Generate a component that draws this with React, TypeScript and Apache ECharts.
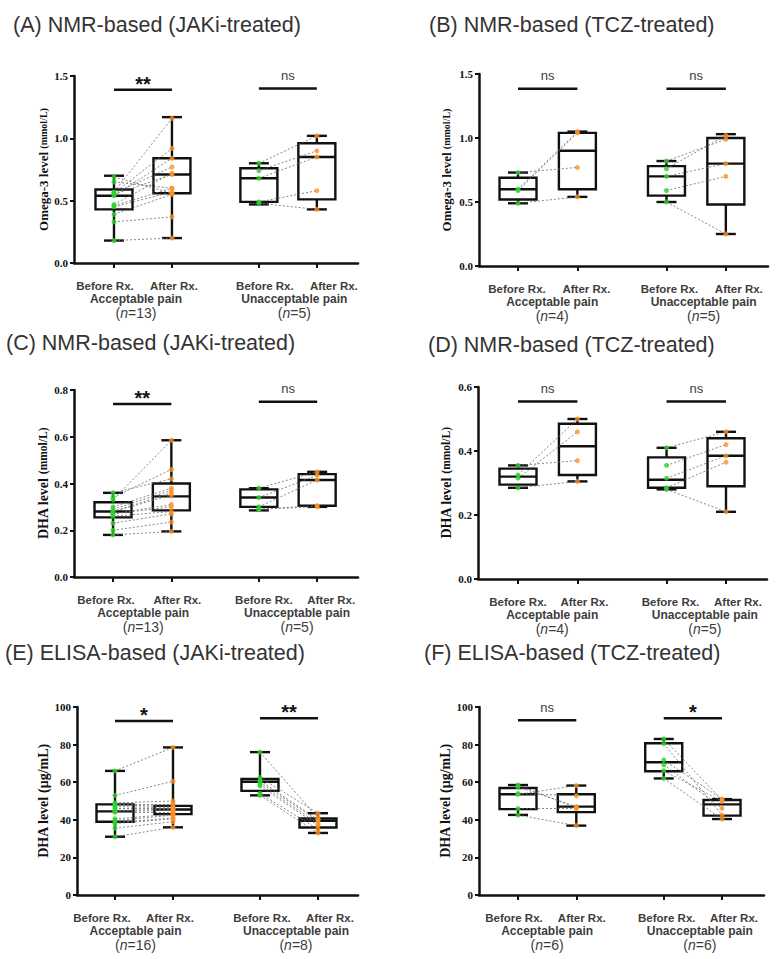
import React, { useEffect, useRef } from "react";
import * as echarts from "echarts";

// ---------- shared categories ----------
const X_POS = [1, 2, 3.5, 4.5];
const X_LABELS = ["Before Rx.", "After Rx.", "Before Rx.", "After Rx."];
const GROUP_POS = [1.5, 4];
const GROUP_LABELS = ["Acceptable pain", "Unacceptable pain"];

// ---------- Panel A: NMR omega-3, JAKi ----------
const aAccBefore = [0.69, 0.65, 0.57, 0.56, 0.56, 0.55, 0.54, 0.47, 0.46, 0.45, 0.39, 0.33, 0.18];
const aAccAfter = [0.56, 0.6, 1.16, 0.92, 0.77, 0.71, 0.84, 0.72, 0.6, 0.57, 0.55, 0.37, 0.2];
const aUnBefore = [0.8, 0.74, 0.68, 0.49, 0.48];
const aUnAfter = [1.02, 0.9, 0.85, 0.58, 0.43];
const aBoxes = [
  [0.18, 0.43, 0.54, 0.59, 0.7],
  [0.2, 0.56, 0.71, 0.84, 1.17],
  [0.47, 0.49, 0.68, 0.76, 0.8],
  [0.43, 0.51, 0.85, 0.96, 1.02],
];
const aSig = [1.39, 1.4];
const aSigLabels = ["**", "ns"];
const aN = [13, 5];

// ---------- Panel B: NMR omega-3, TCZ ----------
const bAccBefore = [0.73, 0.6, 0.59, 0.49];
const bAccAfter = [0.77, 1.05, 1.04, 0.54];
const bUnBefore = [0.82, 0.76, 0.7, 0.59, 0.5];
const bUnAfter = [0.99, 1.02, 0.8, 0.7, 0.25];
const bBoxes = [
  [0.49, 0.52, 0.6, 0.69, 0.73],
  [0.54, 0.6, 0.9, 1.04, 1.05],
  [0.5, 0.55, 0.7, 0.78, 0.82],
  [0.25, 0.48, 0.8, 1.0, 1.03],
];
const bSig = [1.385, 1.385];
const bSigLabels = ["ns", "ns"];
const bN = [4, 5];

// ---------- Panel C: NMR DHA, JAKi ----------
const cAccBefore = [0.36, 0.34, 0.33, 0.3, 0.29, 0.28, 0.28, 0.27, 0.27, 0.26, 0.23, 0.2, 0.18];
const cAccAfter = [0.42, 0.46, 0.585, 0.38, 0.37, 0.36, 0.35, 0.31, 0.3, 0.28, 0.27, 0.235, 0.195];
const cUnBefore = [0.38, 0.34, 0.3, 0.29, 0.29];
const cUnAfter = [0.45, 0.435, 0.415, 0.305, 0.3];
const cBoxes = [
  [0.18, 0.255, 0.28, 0.32, 0.36],
  [0.195, 0.285, 0.345, 0.4, 0.585],
  [0.285, 0.3, 0.34, 0.375, 0.38],
  [0.3, 0.305, 0.415, 0.44, 0.45],
];
const cSig = [0.74, 0.75];
const cSigLabels = ["**", "ns"];
const cN = [13, 5];

// ---------- Panel D: NMR DHA, TCZ ----------
const dAccBefore = [0.355, 0.325, 0.315, 0.285];
const dAccAfter = [0.37, 0.5, 0.46, 0.305];
const dUnBefore = [0.41, 0.355, 0.315, 0.285, 0.28];
const dUnAfter = [0.46, 0.42, 0.385, 0.365, 0.21];
const dBoxes = [
  [0.285, 0.295, 0.32, 0.345, 0.355],
  [0.305, 0.325, 0.415, 0.485, 0.5],
  [0.28, 0.285, 0.31, 0.38, 0.41],
  [0.21, 0.29, 0.385, 0.44, 0.46],
];
const dSig = [0.555, 0.555];
const dSigLabels = ["ns", "ns"];
const dN = [4, 5];

// ---------- Panel E: ELISA DHA, JAKi ----------
const eAccBefore = [66, 53, 49, 48.5, 48, 47, 46, 45, 44.5, 44, 40.5, 39.5, 38.5, 38, 35.5, 31];
const eAccAfter = [78.5, 60.5, 50, 48.5, 47, 46.5, 46, 45.5, 45, 44, 43, 42.5, 41, 40.5, 39, 36];
const eUnBefore = [76, 62.5, 61, 60, 59, 58, 54, 53];
const eUnAfter = [41, 43.5, 40, 39.5, 38, 37, 35, 33];
const eBoxes = [
  [31, 39, 44.5, 48.2, 66],
  [36, 43, 45.5, 47.4, 78.5],
  [53, 55.4, 60.2, 61.7, 76],
  [33, 35.9, 39.5, 40.7, 43.5],
];
const eSig = [92.5, 94];
const eSigLabels = ["*", "**"];
const eN = [16, 8];

// ---------- Panel F: ELISA DHA, TCZ ----------
const fAccBefore = [58.5, 57.5, 54, 53.5, 46, 42.5];
const fAccAfter = [46.4, 47, 52.8, 58.2, 46, 36.9];
const fUnBefore = [83, 80.5, 71.8, 69.3, 66.1, 62];
const fUnAfter = [50.5, 42.5, 51, 46.1, 49.8, 40.4];
const fBoxes = [
  [42.6, 45.7, 53.6, 56.9, 58.5],
  [36.9, 44.1, 47, 53.6, 58.2],
  [62, 65.8, 70.6, 80.7, 83],
  [40.4, 42.2, 48.2, 50.5, 51],
];
const fSig = [93, 94];
const fSigLabels = ["ns", "*"];
const fN = [6, 6];

const TITLES = [
  "(A) NMR-based (JAKi-treated)",
  "(B) NMR-based (TCZ-treated)",
  "(C) NMR-based (JAKi-treated)",
  "(D) NMR-based (TCZ-treated)",
  "(E) ELISA-based (JAKi-treated)",
  "(F) ELISA-based (TCZ-treated)",
];
const Y_MAIN = ["Omega-3 level", "Omega-3 level", "DHA level", "DHA level", "DHA level", "DHA level"];
const Y_UNIT = ["(mmol/L)", "(mmol/L)", "(mmol/L)", "(mmol/L)", "(μg/mL)", "(μg/mL)"];
const Y_MAX = [1.5, 1.5, 0.8, 0.6, 100, 100];
const Y_STEP = [0.5, 0.5, 0.2, 0.2, 20, 20];
const Y_DEC = [1, 1, 1, 1, 0, 0];

const PANEL_DATA = [
  { accBefore: aAccBefore, accAfter: aAccAfter, unBefore: aUnBefore, unAfter: aUnAfter, boxes: aBoxes, sig: aSig, sigLabels: aSigLabels, n: aN },
  { accBefore: bAccBefore, accAfter: bAccAfter, unBefore: bUnBefore, unAfter: bUnAfter, boxes: bBoxes, sig: bSig, sigLabels: bSigLabels, n: bN },
  { accBefore: cAccBefore, accAfter: cAccAfter, unBefore: cUnBefore, unAfter: cUnAfter, boxes: cBoxes, sig: cSig, sigLabels: cSigLabels, n: cN },
  { accBefore: dAccBefore, accAfter: dAccAfter, unBefore: dUnBefore, unAfter: dUnAfter, boxes: dBoxes, sig: dSig, sigLabels: dSigLabels, n: dN },
  { accBefore: eAccBefore, accAfter: eAccAfter, unBefore: eUnBefore, unAfter: eUnAfter, boxes: eBoxes, sig: eSig, sigLabels: eSigLabels, n: eN },
  { accBefore: fAccBefore, accAfter: fAccAfter, unBefore: fUnBefore, unAfter: fUnAfter, boxes: fBoxes, sig: fSig, sigLabels: fSigLabels, n: fN },
];

// ---------- layout (pixels) ----------
const LAYOUT = [
  { grid: { left: 74, top: 76, width: 284, height: 187 }, xMin: 0.31, xMax: 5.21, tx: 13, ty: 25, nameGap: 22, unitSize: 10, mainSize: 13, labelShift: [-9, 2, 6, 17], groupShift: [-7, 6.5] },
  { grid: { left: 479, top: 74, width: 289, height: 192 }, xMin: 0.343, xMax: 5.21, tx: 429, ty: 25, nameGap: 26, unitSize: 10, mainSize: 13, labelShift: [-1, 9, 3, 13], groupShift: [4.5, 7.5] },
  { grid: { left: 74, top: 390, width: 284, height: 187 }, xMin: 0.331, xMax: 5.2, tx: 6, ty: 343, nameGap: 22, unitSize: 11.5, mainSize: 14, labelShift: [-7, 6, 5, 14], groupShift: [1, 9] },
  { grid: { left: 478, top: 387, width: 289, height: 192 }, xMin: 0.327, xMax: 5.19, tx: 428, ty: 345, nameGap: 25, unitSize: 11.5, mainSize: 14, labelShift: [0, 7, 4, 12], groupShift: [4.5, 8.5] },
  { grid: { left: 77, top: 707, width: 281, height: 188 }, xMin: 0.345, xMax: 5.19, tx: 5, ty: 653, nameGap: 27, unitSize: 14, mainSize: 14, labelShift: [-13, -3, 2, 12], groupShift: [-8.5, 7] },
  { grid: { left: 479, top: 707, width: 285, height: 188 }, xMin: 0.331, xMax: 5.22, tx: 424, ty: 653, nameGap: 26, unitSize: 14, mainSize: 14, labelShift: [-4, 5.5, 3, 12], groupShift: [0, 7] },
];

const SANS = '"Liberation Sans", Arial, sans-serif';
const SERIF = '"Liberation Serif", "Times New Roman", serif';
const INK = "#111";
const GREEN = "#2fd12f";
const ORANGE = "#ff9124";
const TXT = "#3d3d3d";

function renderBox(_params: any, api: any) {
  const x = api.value(0);
  const c = (v: number) => api.coord([x, v]);
  const [cx, yMin] = c(api.value(1));
  const yQ1 = c(api.value(2))[1];
  const yMed = c(api.value(3))[1];
  const yQ3 = c(api.value(4))[1];
  const yMax = c(api.value(5))[1];
  const hw = 18.5;
  const cw = 10;
  const st = { stroke: INK, lineWidth: 2.4, fill: null };
  return {
    type: "group",
    children: [
      { type: "line", shape: { x1: cx, y1: yMax, x2: cx, y2: yQ3 }, style: st },
      { type: "line", shape: { x1: cx, y1: yQ1, x2: cx, y2: yMin }, style: st },
      { type: "line", shape: { x1: cx - cw, y1: yMax, x2: cx + cw, y2: yMax }, style: st },
      { type: "line", shape: { x1: cx - cw, y1: yMin, x2: cx + cw, y2: yMin }, style: st },
      { type: "rect", shape: { x: cx - hw, y: yQ3, width: 2 * hw, height: yQ1 - yQ3 }, style: { stroke: INK, lineWidth: 2.4, fill: "#fff" } },
      { type: "line", shape: { x1: cx - hw, y1: yMed, x2: cx + hw, y2: yMed }, style: st },
    ],
  };
}

function buildOption() {
  const grid: any[] = [];
  const xAxis: any[] = [];
  const yAxis: any[] = [];
  const series: any[] = [];
  const graphic: any[] = [];

  PANEL_DATA.forEach((p, i) => {
    const L = LAYOUT[i];
    grid.push({ ...L.grid, containLabel: false });
    xAxis.push({
      gridIndex: i,
      type: "value",
      min: L.xMin,
      max: L.xMax,
      splitLine: { show: false },
      axisLine: { show: true, onZero: false, lineStyle: { color: INK, width: 2.5 } },
      axisTick: { show: true, customValues: X_POS, length: 5, lineStyle: { color: INK, width: 2 } },
      axisLabel: { show: false },
    });
    yAxis.push({
      gridIndex: i,
      type: "value",
      min: 0,
      max: Y_MAX[i],
      interval: Y_STEP[i],
      splitLine: { show: false },
      axisLine: { show: true, lineStyle: { color: INK, width: 2.5 } },
      axisTick: { show: true, length: 4, lineStyle: { color: INK, width: 2 } },
      axisLabel: {
        margin: 6,
        formatter: (v: number) => v.toFixed(Y_DEC[i]),
        fontFamily: SERIF,
        fontWeight: "bold",
        fontSize: 11,
        color: INK,
      },
      name: `{a|${Y_MAIN[i]} }{b|${Y_UNIT[i]}}`,
      nameLocation: "middle",
      nameGap: L.nameGap,
      nameRotate: 90,
      nameTextStyle: {
        fontFamily: SERIF,
        fontWeight: "bold",
        fontSize: L.mainSize,
        color: INK,
        rich: {
          a: { fontFamily: SERIF, fontWeight: "bold", fontSize: L.mainSize, color: INK },
          b: { fontFamily: SERIF, fontWeight: "bold", fontSize: L.unitSize, color: INK },
        },
      },
    });

    // boxes
    series.push({
      type: "custom",
      xAxisIndex: i,
      yAxisIndex: i,
      silent: true,
      z: 2,
      renderItem: renderBox,
      data: p.boxes.map((b, k) => [X_POS[k], ...b]),
    });

    // paired dashed links
    const links: any[] = [];
    p.accBefore.forEach((v, k) => links.push({ coords: [[X_POS[0], v], [X_POS[1], p.accAfter[k]]] }));
    p.unBefore.forEach((v, k) => links.push({ coords: [[X_POS[2], v], [X_POS[3], p.unAfter[k]]] }));
    series.push({
      type: "lines",
      coordinateSystem: "cartesian2d",
      xAxisIndex: i,
      yAxisIndex: i,
      silent: true,
      z: 3,
      data: links,
      lineStyle: { color: "#6a6a6a", width: 0.8, type: [2, 2], opacity: 1 },
    });

    // points
    series.push({
      type: "scatter",
      xAxisIndex: i,
      yAxisIndex: i,
      silent: true,
      z: 4,
      symbolSize: 5,
      itemStyle: { color: GREEN },
      data: [...p.accBefore.map((v) => [X_POS[0], v]), ...p.unBefore.map((v) => [X_POS[2], v])],
    });
    series.push({
      type: "scatter",
      xAxisIndex: i,
      yAxisIndex: i,
      silent: true,
      z: 4,
      symbolSize: 5,
      itemStyle: { color: ORANGE },
      data: [...p.accAfter.map((v) => [X_POS[1], v]), ...p.unAfter.map((v) => [X_POS[3], v])],
    });

    // significance bars
    series.push({
      type: "custom",
      xAxisIndex: i,
      yAxisIndex: i,
      silent: true,
      z: 5,
      data: p.sig.map((y, k) => [X_POS[k * 2], y, X_POS[k * 2 + 1], k]),
      renderItem: (_params: any, api: any) => {
        const y = api.value(1);
        const c1 = api.coord([api.value(0), y]);
        const c2 = api.coord([api.value(2), y]);
        const k = api.value(3);
        const lab = p.sigLabels[k];
        const star = lab.indexOf("*") >= 0;
        return {
          type: "group",
          children: [
            { type: "line", shape: { x1: c1[0], y1: c1[1], x2: c2[0], y2: c2[1] }, style: { stroke: INK, lineWidth: 2.5 } },
            {
              type: "text",
              x: (c1[0] + c2[0]) / 2,
              y: c1[1] - (star ? 6 : 13),
              style: {
                text: lab,
                fill: star ? INK : TXT,
                font: star ? `bold 20px ${SANS}` : `13px ${SANS}`,
                align: "center",
                verticalAlign: "middle",
                textAlign: "center",
                textVerticalAlign: "middle",
              },
            },
          ],
        };
      },
    });

    // x category labels
    series.push({
      type: "custom",
      xAxisIndex: i,
      yAxisIndex: i,
      silent: true,
      z: 5,
      data: X_POS.map((x, k) => [x, 0, k]),
      renderItem: (_params: any, api: any) => {
        const k = api.value(2);
        const c = api.coord([api.value(0), 0]);
        return {
          type: "text",
          x: c[0] + L.labelShift[k],
          y: c[1] + 23,
          style: {
            text: X_LABELS[k],
            fill: TXT,
            font: `bold 11.5px ${SANS}`,
            align: "center",
            verticalAlign: "middle",
            textAlign: "center",
            textVerticalAlign: "middle",
          },
        };
      },
    });

    // group labels and n
    series.push({
      type: "custom",
      xAxisIndex: i,
      yAxisIndex: i,
      silent: true,
      z: 5,
      data: GROUP_POS.map((x, g) => [x, 0, g]),
      renderItem: (_params: any, api: any) => {
        const g = api.value(2);
        const c = api.coord([api.value(0), 0]);
        const gx = c[0] + L.groupShift[g];
        const rs = { fontFamily: SANS, fontSize: 14, fill: TXT, color: TXT };
        return {
          type: "group",
          children: [
            {
              type: "text",
              x: gx,
              y: c[1] + 36,
              style: {
                text: GROUP_LABELS[g],
                fill: TXT,
                font: `bold 12px ${SANS}`,
                align: "center",
                verticalAlign: "middle",
                textAlign: "center",
                textVerticalAlign: "middle",
              },
            },
            {
              type: "text",
              x: gx,
              y: c[1] + 50,
              style: {
                text: `{r|(}{i|n}{r|=${p.n[g]})}`,
                fill: TXT,
                font: `14px ${SANS}`,
                align: "center",
                verticalAlign: "middle",
                textAlign: "center",
                textVerticalAlign: "middle",
                rich: { r: rs, i: { ...rs, fontStyle: "italic" } },
              },
            },
          ],
        };
      },
    });

    graphic.push({
      type: "text",
      x: L.tx,
      y: L.ty,
      silent: true,
      style: {
        text: TITLES[i],
        fill: "#333",
        font: `21.5px ${SANS}`,
        verticalAlign: "middle",
        textVerticalAlign: "middle",
      },
    });
  });

  return { animation: false, backgroundColor: "#fff", grid, xAxis, yAxis, series, graphic };
}

export default function App() {
  const ref = useRef<HTMLDivElement>(null);
  useEffect(() => {
    document.body.style.margin = "0";
    const chart = echarts.init(ref.current!, null, { renderer: "svg" });
    chart.setOption(buildOption() as any);
    return () => chart.dispose();
  }, []);
  return <div ref={ref} style={{ width: 782, height: 959, position: "absolute", left: 0, top: 0 }} />;
}
